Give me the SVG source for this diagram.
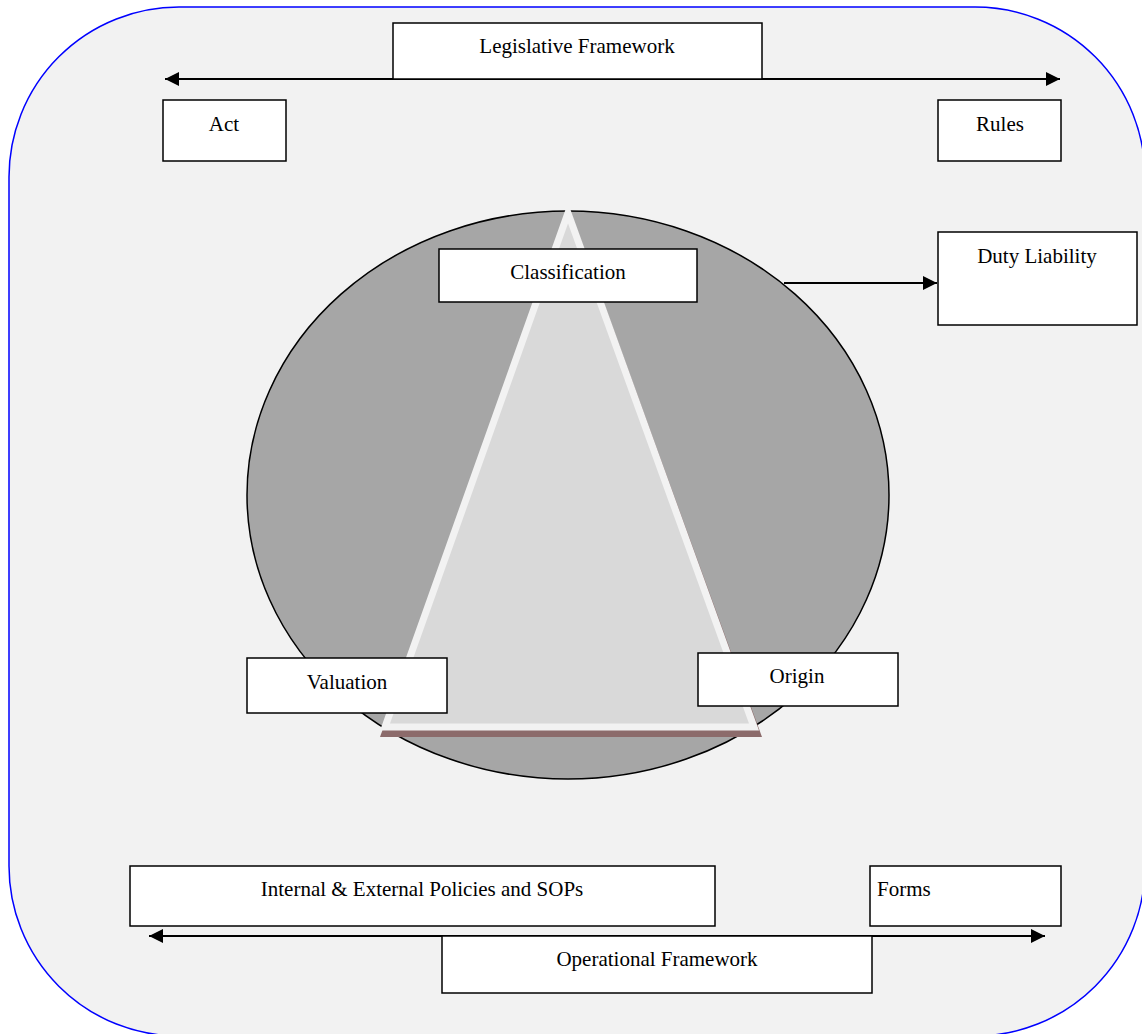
<svg xmlns="http://www.w3.org/2000/svg" width="1142" height="1034" viewBox="0 0 1142 1034">
<style>
.box{fill:#fff;stroke:#000;stroke-width:1.5}
.lbl{font-family:"Liberation Serif","Times New Roman",serif;font-size:21px;fill:#000;text-anchor:middle}
.con{stroke:#000;stroke-width:2;fill:none}
</style>
<defs>
<marker id="ah" viewBox="0 0 10 10" refX="10" refY="5" markerWidth="8" markerHeight="7" markerUnits="strokeWidth" orient="auto-start-reverse">
<path d="M0,0 L10,5 L0,10 z" fill="#000"/>
</marker>
</defs>
<rect x="9" y="7" width="1136" height="1029" rx="170" ry="170" fill="#f2f2f2" stroke="#0000ff" stroke-width="1.5"/>
<g id="circle">
<ellipse cx="568" cy="495" rx="321" ry="284" fill="#a6a6a6" stroke="#000" stroke-width="1.5"/>
</g>
<g id="triangle">
<polygon points="570,210 380,737 762,737" fill="#8c6b6b"/>
<polygon points="568,213 385,727 754,727" fill="#d9d9d9" stroke="#f2f2f2" stroke-width="7"/>
</g>
<g id="connectors">
<line class="con" x1="380" y1="79" x2="165" y2="79" marker-end="url(#ah)"/>
<line class="con" x1="380" y1="79" x2="1060" y2="79" marker-end="url(#ah)"/>
<line class="con" x1="784" y1="283" x2="937" y2="283" marker-end="url(#ah)"/>
<line class="con" x1="600" y1="936" x2="149" y2="936" marker-end="url(#ah)"/>
<line class="con" x1="600" y1="936" x2="1045" y2="936" marker-end="url(#ah)"/>
</g>
<g id="legislative"><rect class="box" x="393" y="23" width="369" height="56"/><text class="lbl" x="577" y="53">Legislative Framework</text></g>
<g id="act"><rect class="box" x="163" y="100" width="123" height="61"/><text class="lbl" x="224" y="131">Act</text></g>
<g id="rules"><rect class="box" x="938" y="100" width="123" height="61"/><text class="lbl" x="1000" y="131">Rules</text></g>
<g id="duty"><rect class="box" x="938" y="232" width="199" height="93"/><text class="lbl" x="1037" y="263">Duty Liability</text></g>
<g id="classification"><rect class="box" x="439" y="249" width="258" height="53"/><text class="lbl" x="568" y="279">Classification</text></g>
<g id="valuation"><rect class="box" x="247" y="658" width="200" height="55"/><text class="lbl" x="347" y="689">Valuation</text></g>
<g id="origin"><rect class="box" x="698" y="653" width="200" height="53"/><text class="lbl" x="797" y="683">Origin</text></g>
<g id="policies"><rect class="box" x="130" y="866" width="585" height="60"/><text class="lbl" x="422" y="896">Internal &amp; External Policies and SOPs</text></g>
<g id="forms"><rect class="box" x="870" y="866" width="191" height="60"/><text class="lbl" x="877" y="896" style="text-anchor:start">Forms</text></g>
<g id="operational"><rect class="box" x="442" y="936" width="430" height="57"/><text class="lbl" x="657" y="966">Operational Framework</text></g>
</svg>
